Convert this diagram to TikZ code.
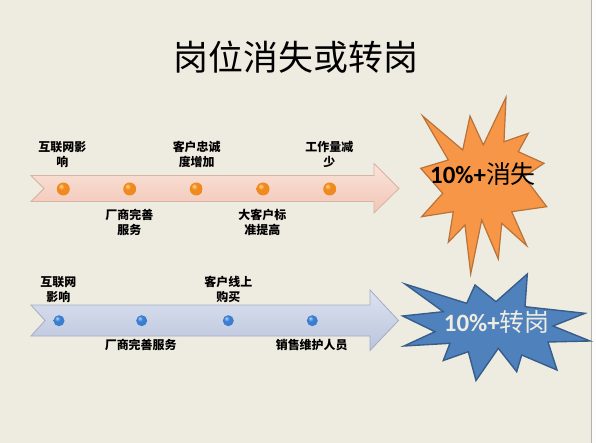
\documentclass[tikz,border=0pt]{standalone}
\usepackage{fontspec}
\newfontfamily\cjk{Noto Sans CJK SC}
\newfontfamily\latinfont{Carlito}
\definecolor{bg}{HTML}{EEECE1}
\definecolor{pinktop}{HTML}{FBE3D9}
\definecolor{pinkbot}{HTML}{F1C6B6}
\definecolor{pinkline}{HTML}{D8B2A4}
\definecolor{bluetop}{HTML}{DCE2F0}
\definecolor{bluebot}{HTML}{BAC4DC}
\definecolor{blueline}{HTML}{A2ACC4}
\definecolor{starorange}{HTML}{F79646}
\definecolor{starorangeline}{HTML}{B8733A}
\definecolor{starblue}{HTML}{4F81BD}
\definecolor{starblueline}{HTML}{385D8A}
\definecolor{ohi}{HTML}{FFD890}
\definecolor{omid}{HTML}{F08A1E}
\definecolor{oedge}{HTML}{B85A0C}
\definecolor{bhi}{HTML}{B8D8F8}
\definecolor{bmid}{HTML}{3B7DD0}
\definecolor{bedge}{HTML}{1C4A88}
\pgfdeclareradialshading{oball}{\pgfpoint{-10bp}{12bp}}{color(0bp)=(ohi); color(12bp)=(omid); color(36bp)=(omid); color(47bp)=(oedge); color(50bp)=(oedge)}
\pgfdeclareradialshading{bball}{\pgfpoint{-10bp}{12bp}}{color(0bp)=(bhi); color(12bp)=(bmid); color(36bp)=(bmid); color(47bp)=(bedge); color(50bp)=(bedge)}
\tikzset{
  lbl/.style={font=\cjk\bfseries\fontsize{12}{15.5}\selectfont, align=center, inner sep=0pt, text=black},
  odot/.style={circle, inner sep=0pt, minimum size=13bp, shading=oball},
  bdot/.style={circle, inner sep=0pt, minimum size=11bp, shading=bball},
  startext/.style={inner sep=0pt, font=\fontsize{25}{28}\selectfont}
}
\begin{document}
\begin{tikzpicture}[x=1bp,y=-1bp]
\useasboundingbox (0,0) rectangle (596,443);
\fill[bg] (0,0) rectangle (596,443);
\fill[white!92!bg] (592,0) rectangle (596,443);
\draw[gray!60, line width=1.2bp] (591.6,0) -- (591.6,443);

% title
\node[font=\cjk\fontsize{35}{40}\selectfont] (title) at (296,57) {岗位消失或转岗};

% top arrow
\shade[top color=pinktop, bottom color=pinkbot, draw=pinkline, line width=0.8bp]
  (31,175.5) -- (374,175.5) -- (374,163.5) -- (399,188.5) -- (374,213) -- (374,201.5) -- (31,201.5) -- (44,188.5) -- cycle;
\node[odot] (o1) at (63.3,189) {};
\node[odot] (o2) at (129.7,189) {};
\node[odot] (o3) at (196.3,189) {};
\node[odot] (o4) at (263,189) {};
\node[odot] (o5) at (329.7,189) {};
\node[lbl] (t1) at (62.3,154.5) {互联网影\\响};
\node[lbl] (t3) at (196.7,154.5) {客户忠诚\\度增加};
\node[lbl] (t5) at (329.3,154.5) {工作量减\\少};
\node[lbl] (t2) at (129.3,222.5) {厂商完善\\服务};
\node[lbl] (t4) at (262.3,222.5) {大客户标\\准提高};

% bottom arrow
\shade[top color=bluetop, bottom color=bluebot, draw=blueline, line width=0.8bp]
  (31,305) -- (370,305) -- (370,290) -- (398.5,320.5) -- (370,350.5) -- (370,336) -- (31,336) -- (45,320.5) -- cycle;
\node[bdot] (b1) at (59,320.7) {};
\node[bdot] (b2) at (141.7,320.7) {};
\node[bdot] (b3) at (228.3,320.7) {};
\node[bdot] (b4) at (312.3,320.7) {};
\node[lbl] (s1) at (58.3,289.6) {互联网\\影响};
\node[lbl] (s3) at (228.3,289.6) {客户线上\\购买};
\node[lbl] (s2) at (140.7,345) {厂商完善服务};
\node[lbl] (s4) at (311.7,345) {销售维护人员};

% orange star
\draw[fill=starorange, draw=starorangeline, line width=1.2bp, line join=miter]
  (506,97.3) -- (504,141.7) -- (528.3,133.3) -- (518.3,151.7) -- (544,163.3) -- (524,176.7)
  -- (546.7,206.7) -- (511.7,211.7) -- (526.7,245.7) -- (501.7,223.3) -- (498.3,259)
  -- (481.7,220) -- (470.7,274) -- (465,225) -- (448.3,242.3) -- (453.3,211.7)
  -- (421.7,216.7) -- (442.7,193.3) -- (420.7,168.3) -- (448.3,160) -- (422.7,116)
  -- (462.7,150) -- (470,116) -- (483.3,145) -- cycle;
\node[startext] (otext) at (483,174.3) {{\latinfont\bfseries 10\%+}{\cjk 消失}};

% blue star
\draw[fill=starblue, draw=starblueline, line width=1.4bp, line join=miter]
  (405,284) -- (466.7,303.3) -- (475,285) -- (496,301.7) -- (527.3,274) -- (525,306.7)
  -- (585,313.3) -- (553,326) -- (590,341) -- (548,342) -- (557,370) -- (521.7,355)
  -- (516.7,371.7) -- (498.3,348.3) -- (476,380.5) -- (468.3,351.7) -- (443.3,360.5)
  -- (450,343.3) -- (404,346) -- (435,331.7) -- (402.7,316) -- (443.3,311.7) -- cycle;
\node[startext, text=bg] (btext) at (496.7,321.7) {{\latinfont\bfseries 10\%+}{\cjk 转岗}};
\end{tikzpicture}
\end{document}
